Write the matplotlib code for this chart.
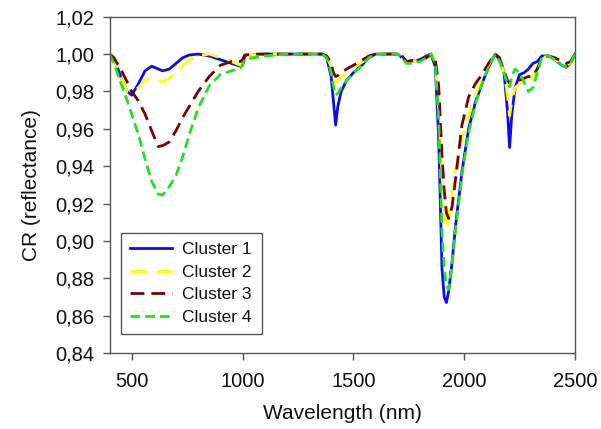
import matplotlib
matplotlib.use("Agg")
import matplotlib.pyplot as plt
from matplotlib.ticker import FuncFormatter

plt.rcParams['font.family'] = ['Liberation Sans', 'DejaVu Sans']

wavelength = [400, 420, 450, 480, 500, 530, 560, 590, 620, 640, 670, 700, 730, 760, 800, 850, 900, 950, 990,
              1000, 1010, 1050, 1100, 1200, 1300, 1360, 1380, 1400, 1410, 1420, 1430, 1445, 1470, 1500, 1530,
              1570, 1600, 1650, 1700, 1720, 1740, 1760, 1800, 1830, 1850, 1870, 1885, 1900, 1910, 1920, 1930,
              1945, 1960, 1990, 2020, 2050, 2080, 2110, 2140, 2160, 2180, 2195, 2205, 2215, 2230, 2250, 2270,
              2290, 2310, 2330, 2350, 2380, 2410, 2440, 2460, 2480, 2500]

cluster1 = [1.000, 0.998, 0.988, 0.980, 0.978, 0.984, 0.991, 0.9935, 0.992, 0.991, 0.992, 0.995, 0.998, 0.9995, 1.000, 0.999, 0.997, 0.995, 0.9935,
            0.994, 0.999, 0.9995, 1.000, 1.000, 1.000, 1.000, 0.998, 0.988, 0.975, 0.962, 0.972, 0.980, 0.986, 0.990, 0.993,
            0.998, 1.000, 1.000, 1.000, 0.998, 0.996, 0.996, 0.997, 0.999, 1.000, 0.993, 0.955, 0.885, 0.870, 0.867, 0.873,
            0.888, 0.907, 0.937, 0.960, 0.974, 0.984, 0.993, 1.000, 0.998, 0.990, 0.970, 0.950, 0.968, 0.982, 0.989, 0.990,
            0.992, 0.995, 0.996, 0.999, 0.999, 0.997, 0.994, 0.993, 0.995, 1.000]

cluster2 = [1.000, 0.998, 0.988, 0.980, 0.9795, 0.982, 0.986, 0.987, 0.986, 0.985, 0.987, 0.990, 0.994, 0.997, 0.999, 1.000, 0.998, 0.996, 0.994,
            0.995, 0.999, 0.9995, 1.000, 1.000, 1.000, 1.000, 0.999, 0.993, 0.988, 0.985, 0.986, 0.988, 0.990, 0.993, 0.995,
            0.998, 1.000, 1.000, 1.000, 0.998, 0.996, 0.996, 0.997, 0.998, 1.000, 0.996, 0.970, 0.935, 0.915, 0.907, 0.912,
            0.925, 0.938, 0.955, 0.967, 0.978, 0.986, 0.994, 1.000, 0.997, 0.990, 0.978, 0.967, 0.975, 0.982, 0.984, 0.985,
            0.985, 0.988, 0.993, 0.998, 0.999, 0.997, 0.995, 0.994, 0.995, 1.000]

cluster3 = [1.000, 0.998, 0.992, 0.985, 0.980, 0.975, 0.968, 0.959, 0.9505, 0.951, 0.953, 0.959, 0.966, 0.972, 0.980, 0.988, 0.994, 0.996, 0.996,
            0.997, 0.9995, 1.000, 1.000, 1.000, 1.000, 1.000, 0.999, 0.995, 0.990, 0.988, 0.9885, 0.990, 0.992, 0.994, 0.996,
            0.999, 1.000, 1.000, 1.000, 0.999, 0.996, 0.9965, 0.997, 0.998, 1.000, 0.997, 0.983, 0.946, 0.927, 0.915, 0.912,
            0.918, 0.932, 0.962, 0.977, 0.984, 0.989, 0.995, 1.000, 0.997, 0.991, 0.986, 0.9845, 0.986, 0.987, 0.986, 0.987,
            0.988, 0.988, 0.992, 0.998, 0.999, 0.998, 0.996, 0.995, 0.996, 1.000]

cluster4 = [1.000, 0.995, 0.985, 0.975, 0.968, 0.957, 0.944, 0.932, 0.925, 0.9245, 0.929, 0.935, 0.945, 0.957, 0.971, 0.983, 0.989, 0.991, 0.9925,
            0.994, 0.997, 0.998, 0.999, 1.000, 1.000, 1.000, 0.998, 0.990, 0.983, 0.978, 0.979, 0.982, 0.986, 0.990, 0.993,
            0.998, 1.000, 1.000, 1.000, 0.998, 0.995, 0.995, 0.996, 0.998, 1.000, 0.995, 0.965, 0.905, 0.885, 0.876, 0.874,
            0.887, 0.905, 0.935, 0.958, 0.973, 0.984, 0.993, 1.000, 0.996, 0.990, 0.984, 0.9825, 0.988, 0.992, 0.990, 0.985,
            0.980, 0.982, 0.990, 0.998, 0.999, 0.997, 0.994, 0.993, 0.995, 1.000]

labels = ['Cluster 1', 'Cluster 2', 'Cluster 3', 'Cluster 4']
xticks = [500, 1000, 1500, 2000, 2500]
yticks = [0.84, 0.86, 0.88, 0.90, 0.92, 0.94, 0.96, 0.98, 1.00, 1.02]

W, H = 601, 429
fig = plt.figure(figsize=(W / 100, H / 100), dpi=100)
ax = fig.add_axes([109.5 / W, 1 - 353 / H, 465.5 / W, (353 - 16.7) / H])

ax.plot(wavelength, cluster1, color='#0a0aff', lw=2.0, ls='-', label=labels[0])
ax.plot(wavelength, cluster2, color='#ffff00', lw=2.0, ls=(0, (6, 3.5)), label=labels[1])
ax.plot(wavelength, cluster3, color='#7a0000', lw=2.0, ls=(0, (5, 2.5)), label=labels[2])
ax.plot(wavelength, cluster4, color='#22e022', lw=2.0, ls=(0, (3.5, 1.8)), label=labels[3])

ax.set_xlim(400, 2500)
ax.set_ylim(0.84, 1.02)
ax.set_xticks(xticks)
ax.set_yticks(yticks)
ax.yaxis.set_major_formatter(FuncFormatter(lambda v, p: f"{v:.2f}".replace('.', ',')))
ax.tick_params(axis='both', direction='out', length=5, width=1, labelsize=14.5, colors='#555555',
               labelcolor='#111111', top=False, right=False)
ax.tick_params(axis='x', pad=9)
ax.tick_params(axis='y', pad=6)
for s in ax.spines.values():
    s.set_color('#555555')
    s.set_linewidth(1.0)

ax.set_xlabel('Wavelength (nm)', fontsize=15, labelpad=9, color='#111111')
ax.set_ylabel('CR (reflectance)', fontsize=15, labelpad=10, color='#111111')

leg = ax.legend(loc='upper left', bbox_to_anchor=(120.7 / W, 1 - 232.7 / H), bbox_transform=fig.transFigure,
                fontsize=12.5, frameon=True, fancybox=False, edgecolor='#555555', framealpha=1,
                handlelength=2.4, borderpad=0.55, labelspacing=0.42, handletextpad=0.6, borderaxespad=0)
leg.get_frame().set_linewidth(1.0)
for t in leg.get_texts():
    t.set_color('#111111')

fig.savefig('out.png', dpi=100)
